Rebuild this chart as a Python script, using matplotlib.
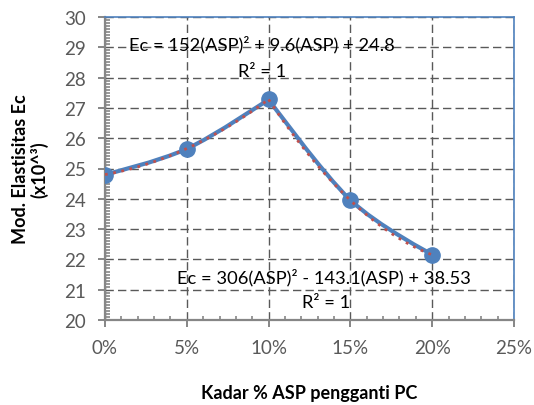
import matplotlib
matplotlib.use("Agg")
import matplotlib.pyplot as plt
import numpy as np
from matplotlib.path import Path
from matplotlib.patches import PathPatch
from matplotlib.ticker import MultipleLocator, PercentFormatter

plt.rcParams["font.family"] = ["Lato", "DejaVu Sans"]

# data
kadar = [0.00, 0.05, 0.10, 0.15, 0.20]
ec = [24.80, 25.65, 27.28, 23.96, 22.16]

# polynomial trendlines (coefficients as printed on the chart)
fit_up = [152, 9.6, 24.8]          # 0% .. 10%
fit_down = [306, -143.1, 38.53]    # 10% .. 20%
eq_up = "Ec = 152(ASP)² + 9.6(ASP) + 24.8"
eq_down = "Ec = 306(ASP)² - 143.1(ASP) + 38.53"
r2_text = "R² = 1"

BLUE = "#4F81BD"
RED = "#C0504D"
GRAY = "#595959"
AXIS_GRAY = "#868686"

dpi = 100
fig = plt.figure(figsize=(534 / dpi, 406 / dpi), dpi=dpi)
ax = fig.add_axes([105 / 534, 1 - 321 / 406, 409 / 534, 303 / 406])

ax.set_xlim(0, 0.25)
ax.set_ylim(20, 30)
ax.xaxis.set_major_locator(MultipleLocator(0.05))
ax.xaxis.set_minor_locator(MultipleLocator(0.01))
ax.yaxis.set_major_locator(MultipleLocator(1))
ax.yaxis.set_minor_locator(MultipleLocator(0.1))
ax.xaxis.set_major_formatter(PercentFormatter(1.0, decimals=0))

ax.grid(True, which="major", color=GRAY, linestyle=(0, (6, 3)), linewidth=1.0)
ax.set_axisbelow(True)

for side in ("left", "bottom"):
    ax.spines[side].set_color(AXIS_GRAY)
    ax.spines[side].set_linewidth(1.6)
for side in ("top", "right"):
    ax.spines[side].set_color(BLUE)
    ax.spines[side].set_linewidth(1.2)

ax.tick_params(which="major", direction="out", length=5, width=1.4,
               color=AXIS_GRAY, labelcolor=GRAY, labelsize=13.5, pad=9)
ax.tick_params(which="minor", direction="in", length=3.5, width=1.2,
               color=AXIS_GRAY)
ax.tick_params(axis="x", which="minor", length=3)

# smoothed series line (bezier through the points, corner at the peak)
pts = np.column_stack([kadar, ec])
n = len(pts)
tang = []
for i in range(n):
    if i == 0 or i == n - 1:
        tang.append(np.zeros(2))
    elif (pts[i, 1] - pts[i - 1, 1]) * (pts[i + 1, 1] - pts[i, 1]) < 0:
        tang.append(np.zeros(2))
    else:
        tang.append((pts[i + 1] - pts[i - 1]) / 6)
verts = [tuple(pts[0])]
codes = [Path.MOVETO]
for i in range(n - 1):
    verts += [tuple(pts[i] + tang[i]), tuple(pts[i + 1] - tang[i + 1]),
              tuple(pts[i + 1])]
    codes += [Path.CURVE4] * 3
ax.add_patch(PathPatch(Path(verts, codes), facecolor="none", edgecolor=BLUE,
                       linewidth=3, capstyle="round", joinstyle="round",
                       zorder=3))
ax.plot(kadar, ec, linestyle="none", marker="o", markersize=11,
        color=BLUE, zorder=4)

# trendlines
xu = np.linspace(kadar[0], kadar[2], 60)
xd = np.linspace(kadar[2], kadar[4], 60)
ax.plot(xu, np.polyval(fit_up, xu), color=RED, linestyle=(0, (1, 2)),
        linewidth=2, zorder=5)
ax.plot(xd, np.polyval(fit_down, xd), color=RED, linestyle=(0, (1, 2)),
        linewidth=2, zorder=5)

txt = dict(transform=ax.transAxes, ha="center", va="center",
           fontsize=13.2, color="black", zorder=6)
ax.text(0.384, 0.911, eq_up, **txt)
ax.text(0.384, 0.822, r2_text, **txt)
ax.text(0.535, 0.142, eq_down, **txt)
ax.text(0.540, 0.059, r2_text, **txt)

ax.set_ylabel("Mod. Elastisitas Ec\n(x10^³)", fontsize=13,
              fontweight="bold", color="black", linespacing=1.05)
ax.yaxis.set_label_coords(-0.183, 0.5)
ax.yaxis.label.set_va("center")
ax.set_xlabel("Kadar % ASP pengganti PC", fontsize=13, fontweight="bold",
              color="black")
ax.xaxis.set_label_coords(0.5, -0.238)
ax.xaxis.label.set_va("center")

fig.savefig("out.png", dpi=dpi)
